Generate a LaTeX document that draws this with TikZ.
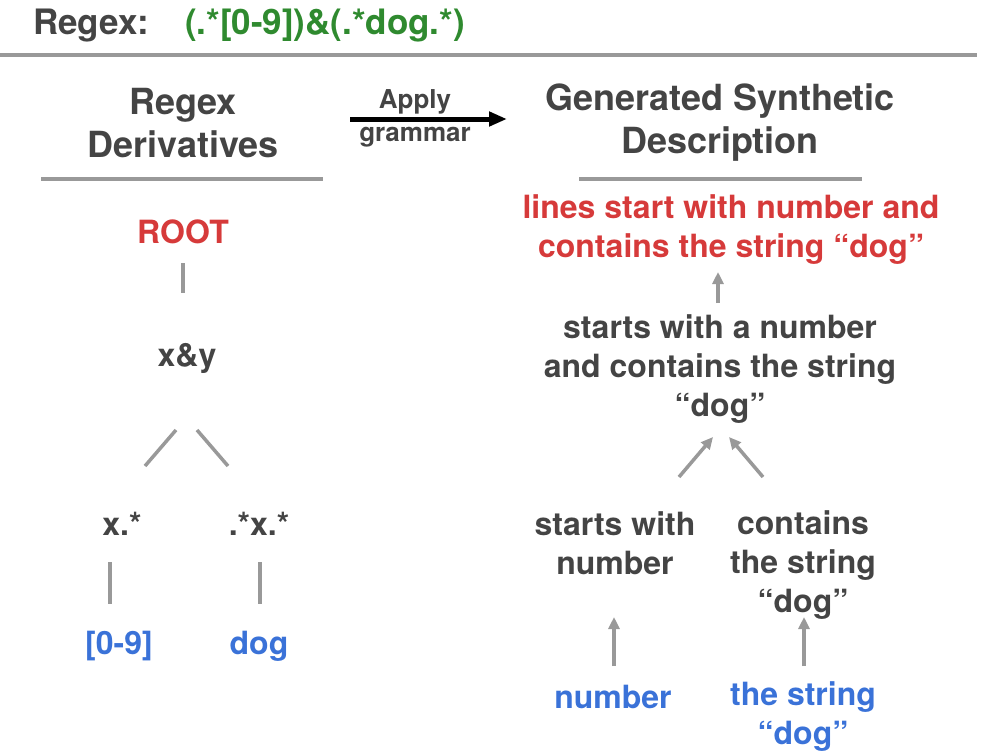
\documentclass[tikz,border=0pt]{standalone}
\usepackage{fontspec}
\setmainfont{TeX Gyre Heros}
\usetikzlibrary{arrows.meta, calc}
\definecolor{txtgray}{HTML}{444444}
\definecolor{rulegray}{HTML}{999999}
\definecolor{rxgreen}{HTML}{2F8A2F}
\definecolor{rxred}{HTML}{D63A3A}
\definecolor{rxblue}{HTML}{3A72D8}
\begin{document}
\begin{tikzpicture}[x=1pt, y=-1pt,
	txt/.style={inner sep=0pt, align=center, font=\fontsize{32}{39}\selectfont\bfseries},
	dark/.style={txt, text=txtgray},
	goal/.style={txt, text=rxred},
	leaf/.style={txt, text=rxblue},
	head/.style={inner sep=0pt, align=center, text=txtgray, font=\fontsize{36}{43}\selectfont\bfseries},
	rule/.style={draw=rulegray, line width=4pt},
	link/.style={draw=rulegray, line width=3.5pt},
	up/.style={draw=rulegray, line width=3.5pt, -{Triangle[length=12pt, width=11pt]}}]
	\useasboundingbox (0,0) rectangle (984,753);
	\node[inner sep=0pt, anchor=west, text=txtgray, font=\fontsize{35}{40}\selectfont\bfseries] (rxlabel) at (33,26) {Regex:};
	\node[inner sep=0pt, text=rxgreen, font=\fontsize{35}{40}\selectfont\bfseries] (rx) at (325,26) {(.*[0-9])\&(.*dog.*)};
	\draw[rule] (0,55) -- (977,55);
	\node[head] (lhead) at (183,123) {Regex\\Derivatives};
	\node[head] (rhead) at (720,123) {Generated Synthetic\\Description};
	\draw[rule] (41,179) -- (323,179);
	\draw[rule] (579,179) -- (862,179);
	\coordinate (ga) at (350,119);
	\coordinate (gb) at (507,119);
	\draw[line width=5pt, -{Triangle[length=18pt, width=14pt]}] (ga) -- (gb);
	\node[inner sep=0pt, text=txtgray, font=\fontsize{26}{30}\selectfont\bfseries] (apply) at (415,102) {Apply};
	\node[inner sep=0pt, text=txtgray, font=\fontsize{26}{30}\selectfont\bfseries] (gram) at (415,137) {grammar};
	\node[goal] (root) at (183,232) {ROOT};
	\node[dark] (xy) at (187,358) {x\&y};
	\node[dark] (xl) at (122,524) {x.*};
	\node[dark] (xr) at (259,524) {.*x.*};
	\node[leaf] (digits) at (119,646) {[0-9]};
	\node[leaf] (dog) at (259,646) {dog};
	\draw[link] ($(root)+(0,31)$) -- ($(root)+(0,61)$);
	\draw[link] ($(xy)+(-11,72)$) -- ($(xy)+(-42,108)$);
	\draw[link] ($(xy)+(10,72)$) -- ($(xy)+(41,108)$);
	\draw[link] ($(xl)+(-12,38)$) -- ($(xl)+(-12,80)$);
	\draw[link] ($(xr)+(1,38)$) -- ($(xr)+(1,80)$);
	\node[goal] (desc) at (731,230) {lines start with number and\\contains the string “dog”};
	\node[dark] (both) at (720,369) {starts with a number\\and contains the string\\“dog”};
	\node[dark] (starts) at (615,543) {starts with\\number};
	\node[dark] (contains) at (803,565) {contains\\the string\\“dog”};
	\node[leaf] (num) at (613,697) {number};
	\node[leaf] (str) at (803,717) {the string\\“dog”};
	\draw[up] ($(both)+(-2,-66)$) -- ($(both)+(-2,-97)$);
	\draw[up] ($(both)+(-41,108)$) -- ($(both)+(-7,68)$);
	\draw[up] ($(both)+(43,108)$) -- ($(both)+(9,68)$);
	\draw[up] ($(num)+(1,-31)$) -- ($(num)+(1,-80)$);
	\draw[up] ($(str)+(1,-51)$) -- ($(str)+(1,-100)$);
\end{tikzpicture}
\end{document}
